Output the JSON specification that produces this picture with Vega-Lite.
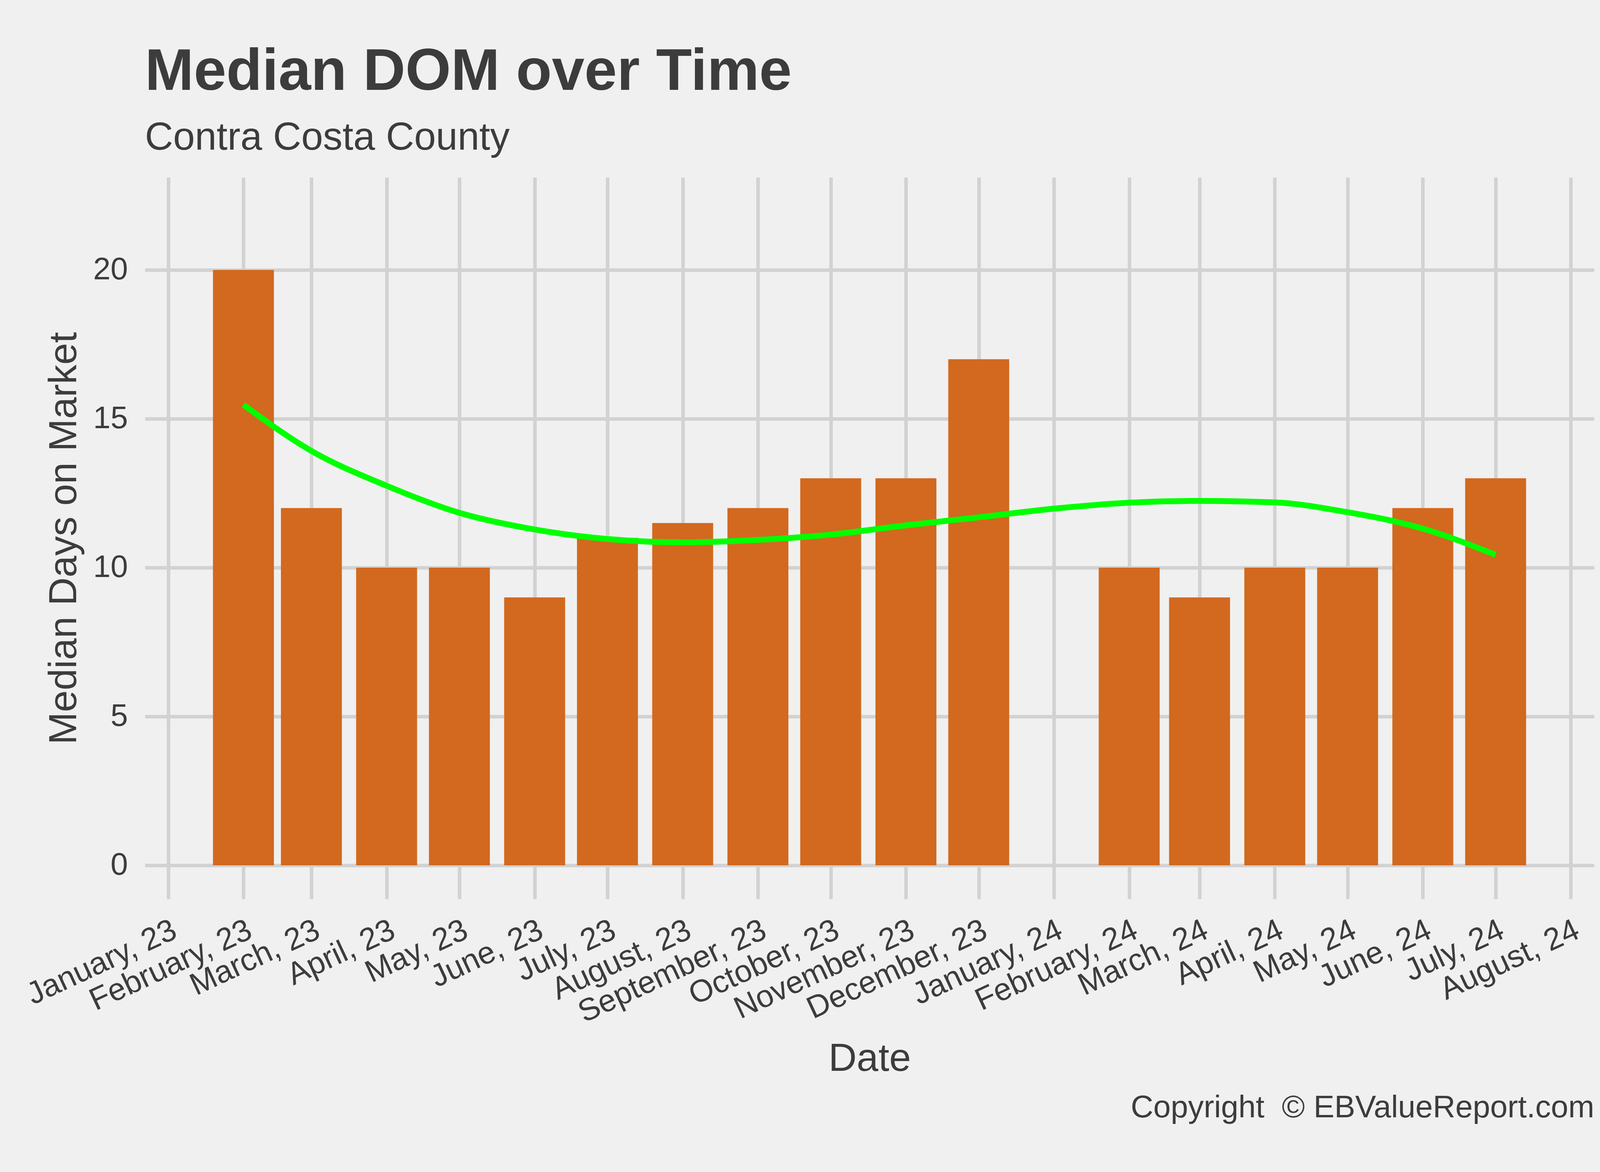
{
  "$schema": "https://vega.github.io/schema/vega-lite/v6.json",
  "width": 3710,
  "height": 1847,
  "autosize": {"type": "none"},
  "padding": {"left": 371, "top": 454, "right": 119, "bottom": 699},
  "background": "#F0F0F0",
  "config": {
    "view": {"stroke": null},
    "font": "Liberation Sans",
    "text": {"font": "Liberation Sans"}
  },
  "title": {
    "text": "Median DOM over Time",
    "subtitle": "Contra Costa County",
    "anchor": "start",
    "frame": "group",
    "font": "Liberation Sans",
    "fontSize": 150,
    "fontWeight": "bold",
    "color": "#3C3C3C",
    "subtitleFont": "Liberation Sans",
    "subtitleFontSize": 100,
    "subtitleFontWeight": "normal",
    "subtitleColor": "#3C3C3C",
    "subtitlePadding": 43,
    "offset": 50
  },
  "datasets": {
    "bars": [
      {"date": "2023-02-01", "dom": 20},
      {"date": "2023-03-01", "dom": 12},
      {"date": "2023-04-01", "dom": 10},
      {"date": "2023-05-01", "dom": 10},
      {"date": "2023-06-01", "dom": 9},
      {"date": "2023-07-01", "dom": 11},
      {"date": "2023-08-01", "dom": 11.5},
      {"date": "2023-09-01", "dom": 12},
      {"date": "2023-10-01", "dom": 13},
      {"date": "2023-11-01", "dom": 13},
      {"date": "2023-12-01", "dom": 17},
      {"date": "2024-02-01", "dom": 10},
      {"date": "2024-03-01", "dom": 9},
      {"date": "2024-04-01", "dom": 10},
      {"date": "2024-05-01", "dom": 10},
      {"date": "2024-06-01", "dom": 12},
      {"date": "2024-07-01", "dom": 13}
    ],
    "smooth": [
      {"date": "2023-02-01", "fit": 15.47},
      {"date": "2023-03-01", "fit": 13.92},
      {"date": "2023-04-01", "fit": 12.75},
      {"date": "2023-05-01", "fit": 11.84},
      {"date": "2023-06-01", "fit": 11.28},
      {"date": "2023-07-01", "fit": 10.96},
      {"date": "2023-08-01", "fit": 10.85},
      {"date": "2023-09-01", "fit": 10.93},
      {"date": "2023-10-01", "fit": 11.11},
      {"date": "2023-11-01", "fit": 11.42},
      {"date": "2023-12-01", "fit": 11.69},
      {"date": "2024-01-01", "fit": 11.98},
      {"date": "2024-02-01", "fit": 12.18},
      {"date": "2024-03-01", "fit": 12.24},
      {"date": "2024-04-01", "fit": 12.19},
      {"date": "2024-05-01", "fit": 11.86},
      {"date": "2024-06-01", "fit": 11.31},
      {"date": "2024-07-01", "fit": 10.43}
    ]
  },
  "layer": [
    {
      "data": {"name": "bars"},
      "mark": {"type": "bar", "color": "#D2691E", "width": 156},
      "encoding": {
        "x": {
          "field": "date",
          "type": "temporal",
          "title": "Date",
          "scale": {
            "type": "utc",
            "domain": [
              {"year": 2022, "month": 12, "date": 23, "hours": 5, "utc": true},
              {"year": 2024, "month": 8, "date": 9, "hours": 19, "utc": true}
            ]
          },
          "axis": {
            "format": "%B, %y",
            "tickCount": {"interval": "month", "step": 1},
            "labelAngle": -25,
            "labelAlign": "right",
            "labelBaseline": "top",
            "labelPadding": 40,
            "labelDx": 12,
            "labelOverlap": false,
            "labelFlush": false,
            "labelLimit": 0,
            "labelFont": "Liberation Sans",
            "labelFontSize": 80,
            "labelColor": "#3C3C3C",
            "ticks": false,
            "tickSize": 0,
            "domain": false,
            "grid": true,
            "gridColor": "#D2D2D2",
            "gridWidth": 9,
            "titleFont": "Liberation Sans",
            "titleFontSize": 100,
            "titleFontWeight": "normal",
            "titleColor": "#3C3C3C",
            "titlePadding": 160
          }
        },
        "y": {
          "field": "dom",
          "type": "quantitative",
          "title": "Median Days on Market",
          "scale": {"domain": [-1.13, 23.11], "nice": false, "zero": false},
          "axis": {
            "values": [0, 5, 10, 15, 20],
            "format": "d",
            "labelFont": "Liberation Sans",
            "labelFontSize": 80,
            "labelColor": "#3C3C3C",
            "labelPadding": 44,
            "labelLimit": 0,
            "ticks": false,
            "tickSize": 0,
            "domain": false,
            "grid": true,
            "gridColor": "#D2D2D2",
            "gridWidth": 9,
            "titleFont": "Liberation Sans",
            "titleFontSize": 100,
            "titleFontWeight": "normal",
            "titleColor": "#3C3C3C",
            "titlePadding": 23
          }
        }
      }
    },
    {
      "data": {"name": "smooth"},
      "mark": {"type": "line", "color": "#00FF00", "strokeWidth": 15, "interpolate": "monotone", "strokeCap": "butt"},
      "encoding": {
        "x": {
          "field": "date",
          "type": "temporal",
          "title": "Copyright\u00a0 © EBValueReport.com",
          "scale": {
            "type": "utc",
            "domain": [
              {"year": 2022, "month": 12, "date": 23, "hours": 5, "utc": true},
              {"year": 2024, "month": 8, "date": 9, "hours": 19, "utc": true}
            ]
          },
          "axis": {
            "orient": "bottom",
            "labels": false,
            "ticks": false,
            "tickSize": 0,
            "domain": false,
            "grid": false,
            "titleAnchor": "end",
            "titleFont": "Liberation Sans",
            "titleFontSize": 80,
            "titleFontWeight": "normal",
            "titleColor": "#3C3C3C",
            "titlePadding": 495
          }
        },
        "y": {
          "field": "fit",
          "type": "quantitative",
          "title": "Median Days on Market"
        }
      }
    }
  ],
  "resolve": {"axis": {"x": "independent"}}
}
